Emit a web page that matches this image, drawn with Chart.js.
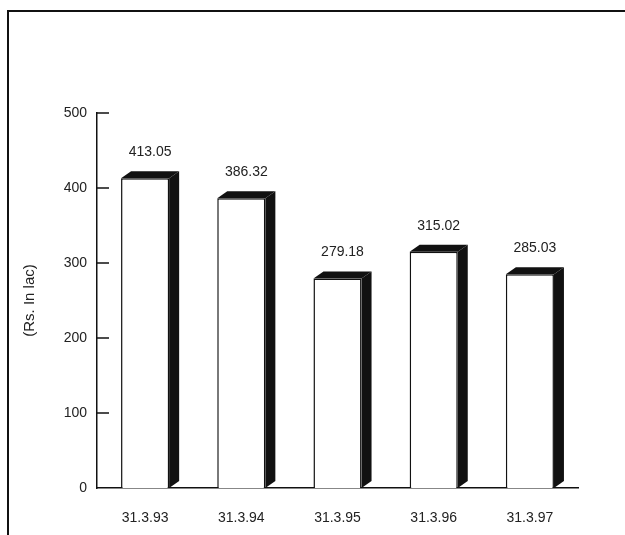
<!DOCTYPE html>
<html>
<head>
<meta charset="utf-8">
<script src="https://cdn.jsdelivr.net/npm/chart.js@4.4.0/dist/chart.umd.min.js"></script>
<style>
    html, body { margin: 0; padding: 0; background: #fff; }
    #wrap { position: relative; width: 625px; height: 535px; }
    #frame { position: absolute; left: 7px; top: 10px; right: 0; bottom: 0; border-top: 2px solid #111; border-left: 2px solid #111; pointer-events: none; }
    canvas { position: absolute; left: 0; top: 0; }
</style>
</head>
<body>
<div id="wrap">
    <canvas id="chart" width="625" height="535"></canvas>
    <div id="frame"></div>
</div>
<script>
// Dados
const categories = ['31.3.93', '31.3.94', '31.3.95', '31.3.96', '31.3.97'];
const values = [413.05, 386.32, 279.18, 315.02, 285.03];
const valueLabels = ['413.05', '386.32', '279.18', '315.02', '285.03'];
const yTicks = [0, 100, 200, 300, 400, 500];

const FONT = 'Liberation Sans, Arial, sans-serif';

// Barras em 3D + rótulos + marcas internas do eixo
const bars3d = {
    id: 'bars3d',
    afterDatasetsDraw(chart) {
        const ctx = chart.ctx;
        const meta = chart.getDatasetMeta(0);
        const d = 10, dy = 7;
        ctx.save();
        meta.data.forEach((bar, i) => {
            const half = bar.width / 2;
            const left = bar.x - half, right = bar.x + half;
            const top = bar.y, bottom = bar.base;
            ctx.fillStyle = '#111';
            // lateral
            ctx.beginPath();
            ctx.moveTo(right, top);
            ctx.lineTo(right + d, top - dy);
            ctx.lineTo(right + d, bottom - dy);
            ctx.lineTo(right, bottom);
            ctx.closePath();
            ctx.fill();
            // topo
            ctx.beginPath();
            ctx.moveTo(left, top);
            ctx.lineTo(left + d, top - dy);
            ctx.lineTo(right + d, top - dy);
            ctx.lineTo(right, top);
            ctx.closePath();
            ctx.fill();
            // rótulo
            ctx.fillStyle = '#222';
            ctx.font = '14px ' + FONT;
            ctx.textAlign = 'center';
            ctx.textBaseline = 'middle';
            ctx.fillText(valueLabels[i], bar.x + 5, top - 26);
        });
        // marcas do eixo y para dentro
        const y = chart.scales.y;
        ctx.strokeStyle = '#111';
        ctx.lineWidth = 1.5;
        yTicks.forEach(v => {
            if (v === 0) return;
            const py = y.getPixelForValue(v);
            ctx.beginPath();
            ctx.moveTo(y.right, py);
            ctx.lineTo(y.right + 12, py);
            ctx.stroke();
        });
        ctx.restore();
    }
};

new Chart(document.getElementById('chart'), {
    type: 'bar',
    data: {
        labels: categories,
        datasets: [{
            data: values,
            backgroundColor: '#fff',
            borderColor: '#111',
            borderWidth: 1.5,
            borderSkipped: 'bottom',
            barPercentage: 0.5,
            categoryPercentage: 1
        }]
    },
    options: {
        responsive: false,
        animation: false,
        layout: { padding: { left: 18, top: 113, right: 47, bottom: 0 } },
        plugins: { legend: { display: false }, tooltip: { enabled: false } },
        scales: {
            x: {
                grid: { display: false },
                border: { display: true, color: '#111', width: 1.5 },
                ticks: { color: '#222', font: { family: FONT, size: 14 }, padding: 14 },
                afterFit(scale) { scale.height = 47; }
            },
            y: {
                min: 0,
                max: 500,
                afterBuildTicks(scale) { scale.ticks = yTicks.map(v => ({ value: v })); },
                grid: { display: false },
                border: { display: true, color: '#111', width: 1.5 },
                ticks: { color: '#222', font: { family: FONT, size: 14 }, padding: 2 },
                title: { display: true, text: '(Rs. In lac)', color: '#222', font: { family: FONT, size: 15 }, padding: 3 },
                afterFit(scale) { scale.width = 79; }
            }
        }
    },
    plugins: [bars3d]
});
</script>
</body>
</html>
